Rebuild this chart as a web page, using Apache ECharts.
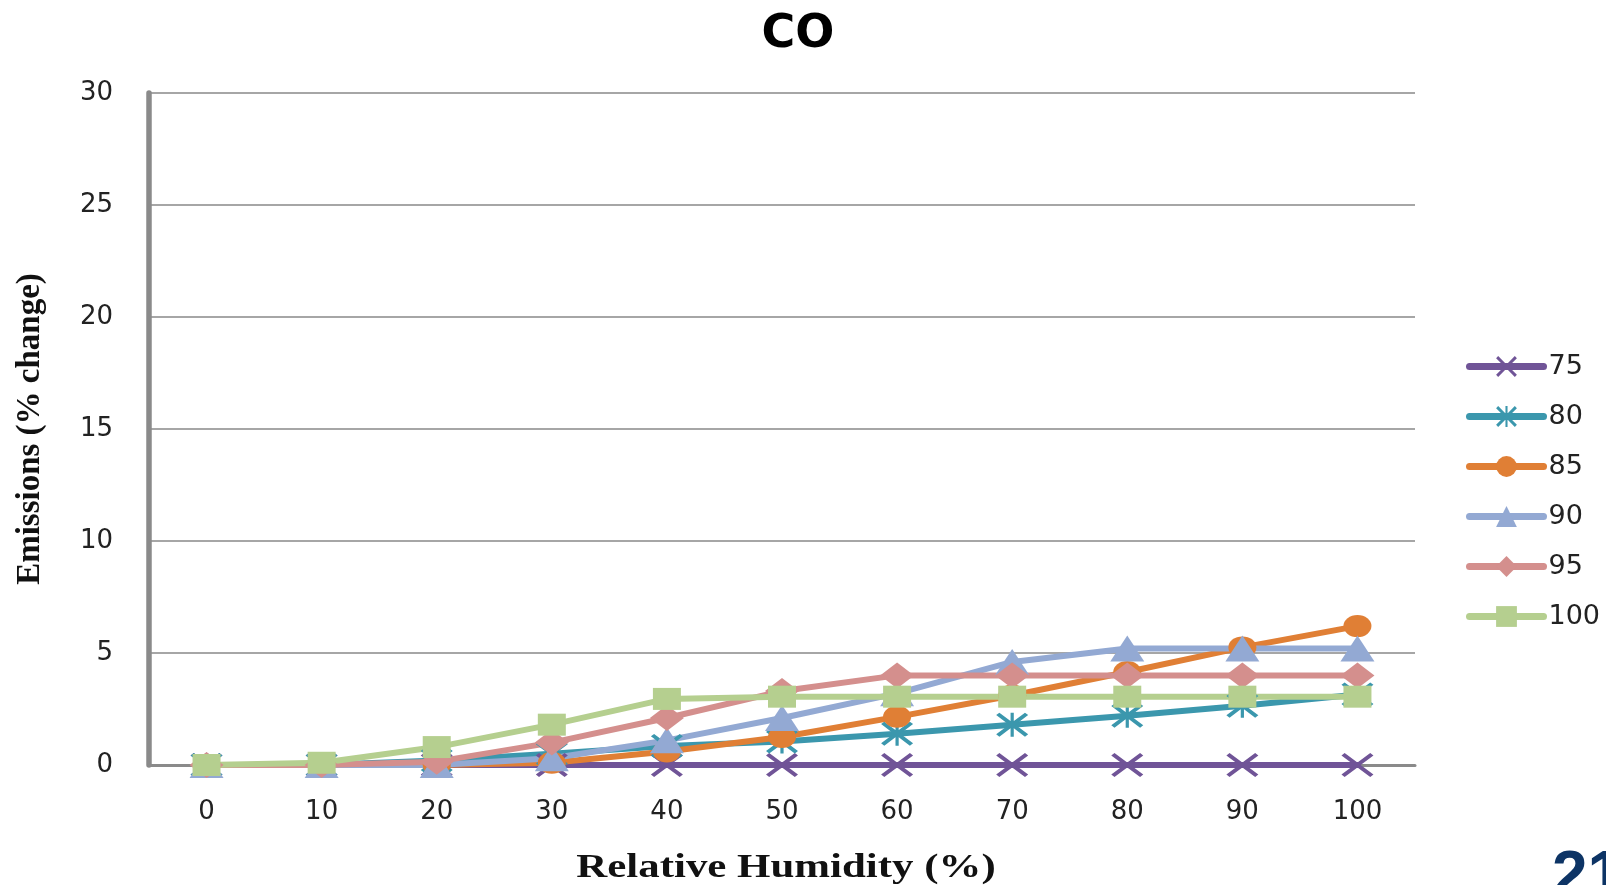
<!DOCTYPE html>
<html>
<head>
<meta charset="utf-8">
<script src="https://cdn.jsdelivr.net/npm/echarts@6/dist/echarts.min.js"></script>
<style>
  html, body { margin: 0; padding: 0; background: #fff; }
  #chart { width: 1606px; height: 885px; }
</style>
</head>
<body>
<div id="chart"></div>
<script>
// relative humidity categories (x axis)
var humidity = ['0', '10', '20', '30', '40', '50', '60', '70', '80', '90', '100'];
var seriesNames = ['75', '80', '85', '90', '95', '100'];

// emissions, % change
var s75  = [0, 0, 0, 0, 0, 0, 0, 0, 0, 0, 0];
var s80  = [0, 0, 0.2, 0.5, 0.85, 1.05, 1.4, 1.8, 2.2, 2.65, 3.15];
var s85  = [0, 0, 0, 0.1, 0.6, 1.25, 2.15, 3.1, 4.15, 5.25, 6.2];
var s90  = [0, 0, 0, 0.3, 1.1, 2.1, 3.2, 4.6, 5.2, 5.2, 5.2];
var s95  = [0, 0, 0.15, 1.0, 2.1, 3.3, 4.0, 4.0, 4.0, 4.0, 4.0];
var s100 = [0, 0.1, 0.8, 1.8, 2.95, 3.05, 3.05, 3.05, 3.05, 3.05, 3.05];

var colors = ['#705497', '#3b97ad', '#e07f35', '#93a9d3', '#d48f8d', '#b5cf8f'];

// x and asterisk markers as filled paths
var xMark = 'path://M1,0L5,4L9,0L10,1L6,5L10,9L9,10L5,6L1,10L0,9L4,5L0,1Z';
var starMark = xMark + 'M4.5,0L5.5,0L5.5,10L4.5,10Z';

var symbols = [xMark, starMark, 'circle', 'triangle', 'diamond', 'rect'];
var sizes = [[32, 24], [32, 24], [28, 22], [34, 26], [34, 26], [28, 22]];
var allData = [s75, s80, s85, s90, s95, s100];

var chart = echarts.init(document.getElementById('chart'));

var series = seriesNames.map(function (name, i) {
    return {
        name: name,
        type: 'line',
        data: allData[i],
        symbol: symbols[i],
        symbolSize: sizes[i],
        showAllSymbol: true,
        lineStyle: { width: 6, color: colors[i], cap: 'round' },
        itemStyle: { color: colors[i] },
        emphasis: { disabled: true }
    };
});

var option = {
    animation: false,
    title: {
        text: 'CO',
        left: 793,
        textAlign: 'center',
        top: 7,
        textStyle: {
            fontFamily: 'DejaVu Sans',
            fontWeight: 'bold',
            fontSize: 46,
            color: '#000'
        }
    },
    legend: {
        orient: 'vertical',
        left: 1461,
        top: 348,
        itemWidth: 74,
        itemHeight: 26,
        itemGap: 23,
        data: seriesNames,
        lineStyle: { width: 7, cap: 'round' },
        textStyle: {
            fontFamily: 'DejaVu Sans',
            fontSize: 27,
            color: '#222'
        }
    },
    grid: {
        left: 149,
        right: 191,
        top: 93,
        bottom: 120,
        containLabel: false,
        outerBoundsMode: 'none'
    },
    xAxis: {
        type: 'category',
        data: humidity,
        boundaryGap: true,
        axisLine: { lineStyle: { color: '#8a8a8a', width: 3 } },
        axisTick: { show: false },
        axisLabel: {
            margin: 34,
            fontFamily: 'DejaVu Sans',
            fontSize: 26,
            color: '#222'
        }
    },
    yAxis: {
        type: 'value',
        min: 0,
        max: 30,
        interval: 5,
        name: 'Emissions (% change)',
        nameLocation: 'middle',
        nameGap: 102,
        nameTextStyle: {
            fontFamily: 'Liberation Serif',
            fontWeight: 'bold',
            fontSize: 33,
            color: '#111'
        },
        axisLine: { show: true, lineStyle: { color: '#8a8a8a', width: 5.5 } },
        axisTick: { show: false },
        axisLabel: {
            margin: 36,
            fontFamily: 'DejaVu Sans',
            fontSize: 26,
            color: '#222'
        },
        splitLine: { lineStyle: { color: '#a6a6a6', width: 2 } }
    },
    graphic: [{
        // x axis title, drawn wide like the original slide
        type: 'text',
        x: 786,
        y: 868,
        scaleX: 1.3,
        style: {
            text: 'Relative Humidity (%)',
            align: 'center',
            verticalAlign: 'middle',
            fontFamily: 'Liberation Serif',
            fontWeight: 'bold',
            fontSize: 33,
            fill: '#111'
        }
    }, {
        type: 'text',
        left: 1552,
        top: 846,
        style: {
            text: '21',
            fontFamily: 'Liberation Sans',
            fontWeight: 'bold',
            fontSize: 64,
            fill: '#0d3465'
        }
    }],
    series: series
};

chart.setOption(option);
</script>
</body>
</html>
